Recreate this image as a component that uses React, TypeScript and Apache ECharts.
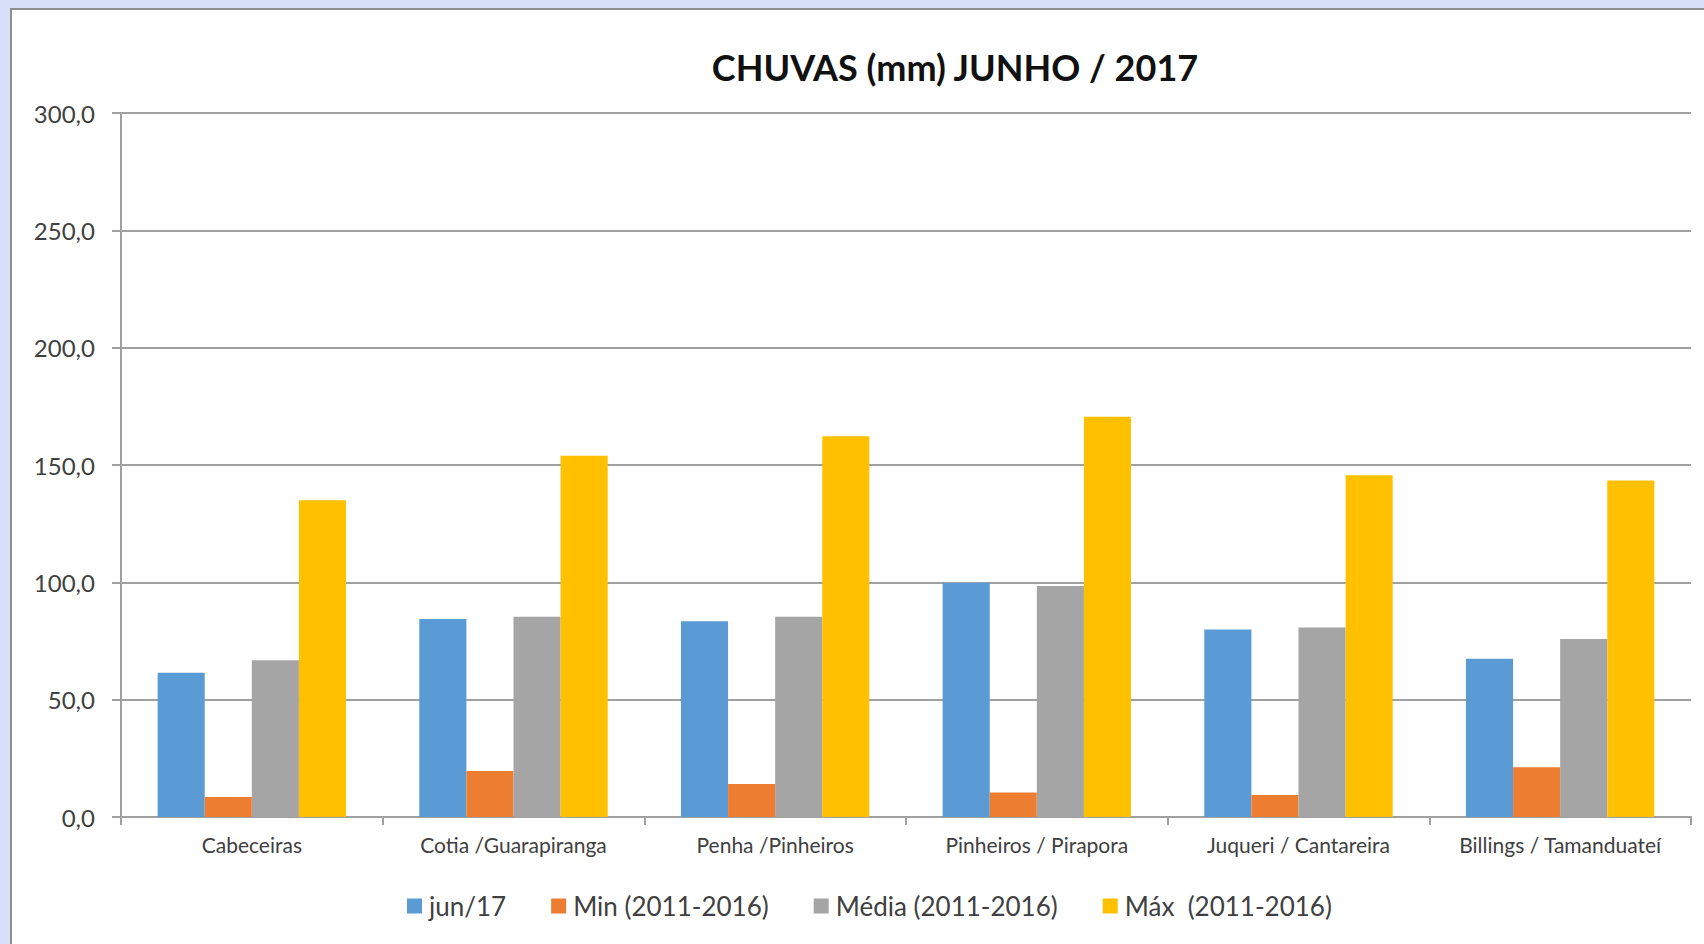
import React, { useEffect, useRef } from "react";
import * as echarts from "echarts";

const categories = [
  "Cabeceiras",
  "Cotia /Guarapiranga",
  "Penha /Pinheiros",
  "Pinheiros / Pirapora",
  "Juqueri / Cantareira",
  "Billings / Tamanduateí",
];
const seriesNames = ["jun/17", "Min (2011-2016)", "Média (2011-2016)", "Máx  (2011-2016)"];
const jun17 = [61.5, 84.4, 83.4, 99.8, 79.9, 67.4];
const minVals = [8.5, 19.6, 14.1, 10.4, 9.4, 21.2];
const mediaVals = [66.8, 85.3, 85.3, 98.4, 80.8, 75.8];
const maxVals = [135.0, 153.9, 162.3, 170.6, 145.6, 143.4];
const colors = ["#5b9bd5", "#ed7d31", "#a5a5a5", "#ffc000"];

const FONT = "Lato, 'Open Sans', sans-serif";

export default function App() {
  const ref = useRef<HTMLDivElement>(null);
  useEffect(() => {
    if (!ref.current) return;
    const chart = echarts.init(ref.current, null, { renderer: "svg" });
    const data = [jun17, minVals, mediaVals, maxVals];
    chart.setOption({
      animation: false,
      textStyle: { fontFamily: FONT },
      title: {
        text: "CHUVAS (mm) JUNHO / 2017",
        left: 950,
        textAlign: "center",
        top: 44,
        textStyle: { fontFamily: FONT, fontSize: 36, fontWeight: "bold", color: "#111" },
      },
      legend: {
        data: seriesNames,
        left: 407,
        top: 893,
        padding: 0,
        icon: "rect",
        itemWidth: 15,
        itemHeight: 15,
        itemGap: 45,
        textStyle: { fontFamily: FONT, fontSize: 26, color: "#404040", padding: [0, 0, 0, 2] },
      },
      grid: { left: 121, right: 13, top: 113, bottom: 127, containLabel: false },
      xAxis: {
        type: "category",
        data: categories,
        axisLine: { lineStyle: { color: "#a0a0a0", width: 2 } },
        axisTick: { show: true, length: 8, lineStyle: { color: "#a0a0a0", width: 2 } },
        axisLabel: { fontFamily: FONT, fontSize: 21, color: "#404040", margin: 17, interval: 0 },
      },
      yAxis: {
        type: "value",
        min: 0,
        max: 300,
        interval: 50,
        axisLine: { show: true, lineStyle: { color: "#a0a0a0", width: 2 } },
        axisTick: { show: true, length: 9, lineStyle: { color: "#a0a0a0", width: 2 } },
        splitLine: { lineStyle: { color: "#a0a0a0", width: 2 } },
        axisLabel: {
          fontFamily: FONT,
          fontSize: 24,
          color: "#404040",
          margin: 26,
          formatter: (v: number) => v.toFixed(1).replace(".", ","),
        },
      },
      series: seriesNames.map((name, i) => ({
        name,
        type: "bar",
        data: data[i],
        barGap: "0%",
        barCategoryGap: "28%",
        itemStyle: { color: colors[i] },
      })),
    });
    return () => chart.dispose();
  }, []);
  return (
    <div
      style={{
        position: "fixed",
        left: 0,
        top: 0,
        width: 1704,
        height: 944,
        background: "#d8e1f9",
        overflow: "hidden",
      }}
    >
      <div
        style={{
          position: "absolute",
          left: 10,
          top: 8,
          width: 1720,
          height: 960,
          background: "#fff",
          borderLeft: "2px solid #8e8e8e",
          borderTop: "2px solid #8e8e8e",
        }}
      />
      <div ref={ref} style={{ position: "absolute", left: 0, top: 0, width: 1704, height: 944 }} />
    </div>
  );
}
